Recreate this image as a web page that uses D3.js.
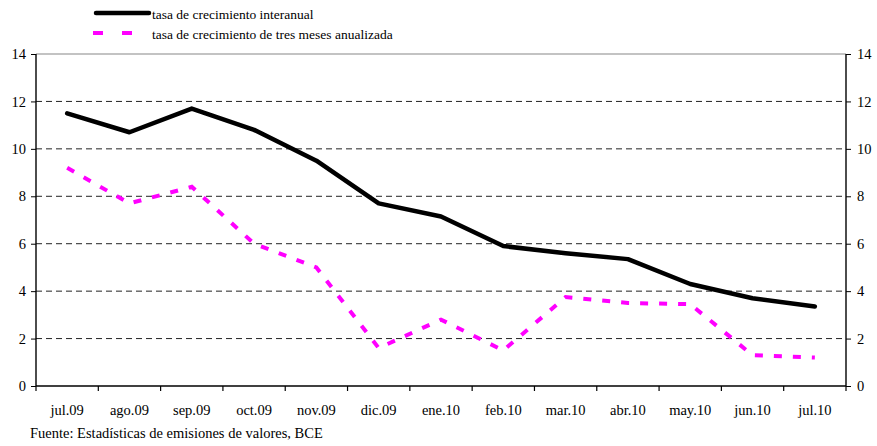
<!DOCTYPE html>
<html>
<head>
<meta charset="utf-8">
<script src="https://cdn.jsdelivr.net/npm/d3@7"></script>
<style>
  body { margin: 0; background: #fff; }
  svg text { font-family: "Liberation Serif", "DejaVu Serif", "Times New Roman", Times, serif !important; fill: #000; }
</style>
</head>
<body>
<div id="chart"></div>
<script>
// data
var months = ["jul.09", "ago.09", "sep.09", "oct.09", "nov.09", "dic.09", "ene.10",
              "feb.10", "mar.10", "abr.10", "may.10", "jun.10", "jul.10"];
var interanual = [11.5, 10.7, 11.7, 10.8, 9.5, 7.7, 7.15, 5.9, 5.6, 5.35, 4.3, 3.7, 3.35];
var tresMeses = [9.2, 7.7, 8.4, 6.0, 5.0, 1.6, 2.8, 1.5, 3.75, 3.5, 3.45, 1.3, 1.2];
var yTicks = [0, 2, 4, 6, 8, 10, 12, 14];
var seriesNames = ["tasa de crecimiento interanual", "tasa de crecimiento de tres meses anualizada"];
var source = "Fuente: Estadísticas de emisiones de valores, BCE";

var width = 877, height = 446;
var margin = {top: 54, right: 31, bottom: 60, left: 36};

var svg = d3.select("#chart").append("svg")
  .attr("width", width)
  .attr("height", height);

var x = d3.scaleBand()
  .domain(months)
  .range([margin.left, width - margin.right]);

var y = d3.scaleLinear()
  .domain([0, 14])
  .range([height - margin.bottom, margin.top]);

// gridlines
svg.append("g").selectAll("line")
  .data(yTicks.filter(function(d){ return d > 0 && d < 14; }))
  .enter().append("line")
  .attr("x1", margin.left).attr("x2", width - margin.right)
  .attr("y1", function(d){ return y(d); }).attr("y2", function(d){ return y(d); })
  .attr("stroke", "#222").attr("stroke-width", 1)
  .attr("stroke-dasharray", "6,4");

// top border
svg.append("line")
  .attr("x1", margin.left).attr("x2", width - margin.right)
  .attr("y1", y(14)).attr("y2", y(14))
  .attr("stroke", "#888").attr("stroke-width", 1.2);

// axes
var left = svg.append("g")
  .attr("transform", "translate(" + margin.left + ",0)")
  .call(d3.axisLeft(y).tickValues(yTicks).tickSize(5).tickPadding(5));
var right = svg.append("g")
  .attr("transform", "translate(" + (width - margin.right) + ",0)")
  .call(d3.axisRight(y).tickValues(yTicks).tickSize(5).tickPadding(6));
var bottom = svg.append("g")
  .attr("transform", "translate(0," + y(0) + ")")
  .call(d3.axisBottom(x).tickSize(0).tickPadding(19));

// bottom ticks at category boundaries
svg.append("g").selectAll("line")
  .data(months.concat(["end"]))
  .enter().append("line")
  .attr("x1", function(d, i){ return margin.left + i * x.step(); })
  .attr("x2", function(d, i){ return margin.left + i * x.step(); })
  .attr("y1", y(0)).attr("y2", y(0) + 5)
  .attr("stroke", "#000").attr("stroke-width", 1.2);

[left, right, bottom].forEach(function(g){
  g.attr("font-family", null).attr("font-size", null);
  g.selectAll("path.domain").attr("stroke", "#000").attr("stroke-width", 1.4);
  g.selectAll("line").attr("stroke", "#000");
  g.selectAll("text").style("font-size", "14.5px");
});
left.select("path.domain").attr("d", "M0," + y(0) + "V" + y(14));
right.select("path.domain").attr("d", "M0," + y(0) + "V" + y(14));
bottom.select("path.domain").attr("d", "M" + margin.left + ",0H" + (width - margin.right));

var line = d3.line()
  .x(function(d, i){ return x(months[i]) + x.bandwidth() / 2; })
  .y(function(d){ return y(d); });

svg.append("path")
  .datum(tresMeses)
  .attr("d", line)
  .attr("fill", "none")
  .attr("stroke", "#ff00ff")
  .attr("stroke-width", 4)
  .attr("stroke-dasharray", "8,11");

svg.append("path")
  .datum(interanual)
  .attr("d", line)
  .attr("fill", "none")
  .attr("stroke", "#000")
  .attr("stroke-width", 4.5)
  .attr("stroke-linejoin", "round")
  .attr("stroke-linecap", "round");

// legend
var legend = svg.append("g");
legend.append("line")
  .attr("x1", 96).attr("x2", 149).attr("y1", 13).attr("y2", 13)
  .attr("stroke", "#000").attr("stroke-width", 4.5).attr("stroke-linecap", "round");
legend.append("line")
  .attr("x1", 93).attr("x2", 135).attr("y1", 33).attr("y2", 33)
  .attr("stroke", "#ff00ff").attr("stroke-width", 4).attr("stroke-dasharray", "10,19");
legend.selectAll("text")
  .data(seriesNames)
  .enter().append("text")
  .attr("x", 152)
  .attr("y", function(d, i){ return 19 + i * 20; })
  .style("font-size", "13.5px")
  .text(function(d){ return d; });

svg.append("text")
  .attr("x", 30).attr("y", 438)
  .style("font-size", "14.5px")
  .text(source);
</script>
</body>
</html>
